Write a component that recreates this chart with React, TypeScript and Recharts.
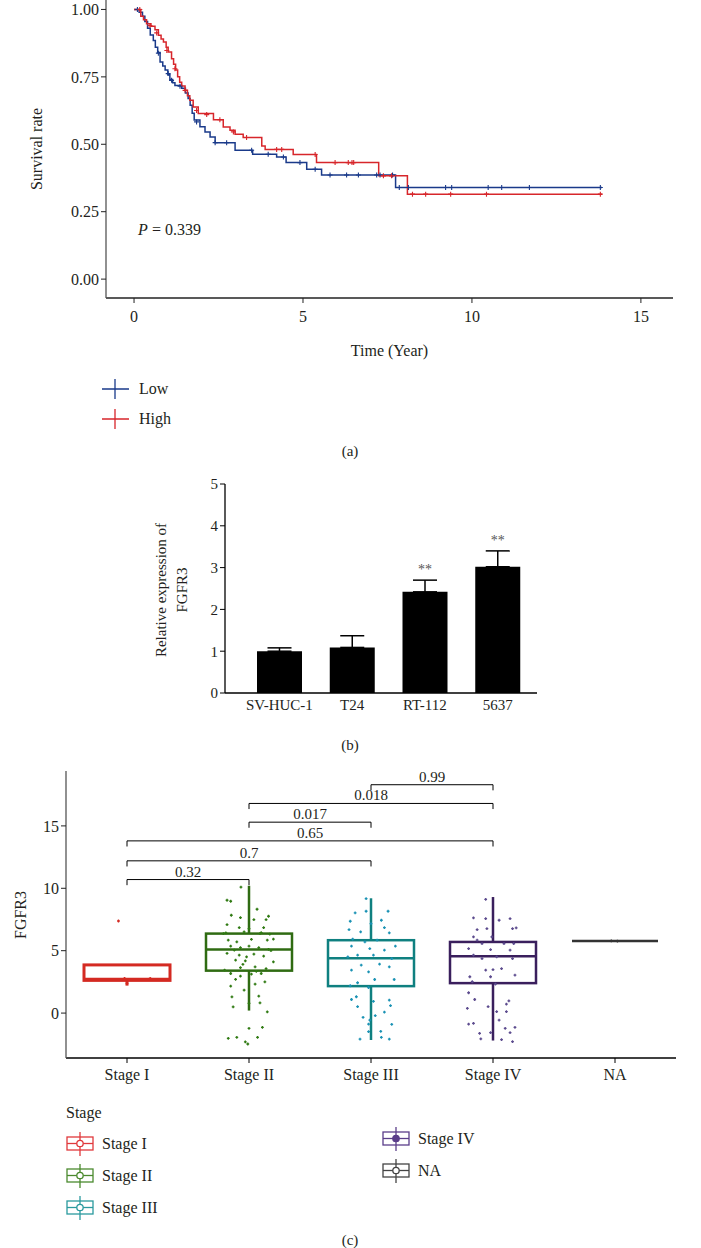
import React from "react";
import {
  ComposedChart,
  Line,
  Scatter,
  Bar,
  ErrorBar,
  XAxis,
  YAxis,
  Legend,
  Label,
  ReferenceLine,
  ReferenceDot,
} from "recharts";

const FONT = '"Liberation Serif", "DejaVu Serif", serif';
const INK = "#231f20";
const AXIS = "#222";

// ---- (a) survival curves ----
const lowTime = [0, 0.15, 0.25, 0.32, 0.4, 0.48, 0.57, 0.63, 0.7, 0.77, 0.85, 0.92, 1.0, 1.06, 1.14, 1.21, 1.41, 1.52, 1.6, 1.66, 1.72, 1.78, 1.95, 2.1, 2.25, 2.4, 2.99, 3.51, 4.22, 4.5, 5.11, 5.55, 7.74, 13.85];
const lowSurv = [1.0, 0.99, 0.975, 0.955, 0.93, 0.905, 0.885, 0.86, 0.84, 0.805, 0.79, 0.775, 0.758, 0.74, 0.728, 0.718, 0.708, 0.69, 0.67, 0.645, 0.615, 0.59, 0.565, 0.546, 0.527, 0.506, 0.478, 0.463, 0.453, 0.432, 0.407, 0.386, 0.34, 0.34];
const highTime = [0, 0.2, 0.28, 0.37, 0.5, 0.62, 0.72, 0.8, 0.87, 0.95, 1.01, 1.11, 1.17, 1.23, 1.29, 1.35, 1.41, 1.51, 1.58, 1.65, 1.75, 1.9, 2.35, 2.64, 2.84, 2.99, 3.23, 3.78, 3.88, 4.71, 5.4, 7.24, 8.09, 13.85];
const highSurv = [1.0, 0.975, 0.962, 0.947, 0.938, 0.925, 0.904, 0.89, 0.879, 0.86, 0.842, 0.817, 0.797, 0.775, 0.75, 0.73, 0.716, 0.7, 0.68, 0.663, 0.638, 0.614, 0.591, 0.564, 0.552, 0.537, 0.525, 0.494, 0.481, 0.462, 0.432, 0.383, 0.315, 0.315];
const lowCensorTime = [0.1, 0.72, 1.01, 1.11, 1.36, 1.85, 2.4, 2.74, 3.48, 3.97, 4.42, 4.91, 5.36, 5.8, 6.29, 6.64, 7.18, 7.28, 7.65, 7.85, 8.12, 9.22, 9.4, 10.48, 10.88, 11.7, 13.8];
const lowCensorSurv = [1.0, 0.838, 0.762, 0.737, 0.715, 0.583, 0.506, 0.506, 0.478, 0.463, 0.453, 0.432, 0.407, 0.386, 0.386, 0.386, 0.386, 0.386, 0.386, 0.34, 0.34, 0.34, 0.34, 0.34, 0.34, 0.34, 0.34];
const highCensorTime = [0.17, 0.47, 0.67, 0.97, 1.21, 1.51, 1.85, 2.15, 2.54, 2.94, 3.33, 4.22, 4.37, 5.36, 5.95, 6.34, 6.45, 6.5, 7.38, 7.62, 8.24, 8.63, 9.37, 10.43, 13.8];
const highCensorSurv = [1.0, 0.94, 0.913, 0.848, 0.78, 0.7, 0.625, 0.61, 0.591, 0.546, 0.525, 0.481, 0.481, 0.462, 0.432, 0.432, 0.432, 0.432, 0.383, 0.383, 0.315, 0.315, 0.315, 0.315, 0.315];
const survTicksX = [0, 5, 10, 15];
const survTicksY = [0, 0.25, 0.5, 0.75, 1];
const groupNames = ["Low", "High"];
const pValue = "0.339";

// ---- (b) qPCR bars ----
const cellLines = ["SV-HUC-1", "T24", "RT-112", "5637"];
const exprMean = [1.0, 1.09, 2.42, 3.02];
const exprSd = [0.08, 0.28, 0.28, 0.38];
const exprSig = ["", "", "**", "**"];
const exprTicks = [0, 1, 2, 3, 4, 5];

// ---- (c) stage boxplot ----
const stages = ["Stage I", "Stage II", "Stage III", "Stage IV", "NA"];
const boxMin = [2.2, 0.2, -2.16, -2.2, 5.74];
const boxQ1 = [2.62, 3.4, 2.16, 2.4, 5.77];
const boxMedian = [2.72, 5.1, 4.4, 4.56, 5.77];
const boxQ3 = [3.86, 6.37, 5.84, 5.7, 5.77];
const boxMax = [3.86, 10.2, 9.2, 9.3, 5.8];
const stageIPts = [[-0.07, 7.38], [-0.02, 2.78], [0, 2.37], [0.19, 2.78]];
const stageIIPts = [[-0.066, 10.1], [-0.18, 9.04], [-0.15, 8.96], [0.066, 8.32], [-0.145, 7.84], [-0.07, 7.65], [0.04, 7.49], [0.14, 7.49], [0.16, 7.76], [-0.18, 7.09], [-0.08, 6.85], [0, 6.77], [0.12, 6.85], [-0.21, 6.37], [-0.04, 6.5], [0.09, 6.37], [0.17, 6.32], [-0.17, 5.84], [-0.1, 5.7], [0.02, 5.9], [0.15, 5.84], [0.2, 5.92], [-0.15, 5.36], [-0.07, 5.25], [0, 5.36], [0.08, 5.25], [0.16, 5.1], [-0.18, 4.78], [-0.08, 4.64], [-0.02, 4.5], [0.04, 4.72], [0.12, 4.56], [-0.11, 4.24], [-0.03, 4.19], [-0.07, 3.65], [0.05, 3.7], [0.14, 3.57], [-0.15, 3.17], [-0.07, 2.96], [0.02, 3.12], [0.1, 3.17], [-0.11, 2.7], [0.05, 2.32], [-0.15, 2.16], [-0.04, 1.84], [0.08, 1.36], [0.09, 0.82], [-0.13, 0.5], [0, 0.77], [0, -1.23], [0.11, -1.15], [-0.17, -2.03], [-0.1, -1.95], [0.07, -1.95], [-0.03, -2.3], [-0.01, -2.48], [-0.19, 6.42], [0.1, 6.45], [-0.12, 5.05], [0.18, 5.0], [-0.2, 3.45], [0.06, 3.35], [0.2, 4.1], [-0.05, 3.9], [0.13, 2.5], [-0.14, 1.3], [0.15, 0.1]];
const stageIIIPts = [[-0.04, 9.17], [-0.13, 8.03], [-0.04, 8.16], [0.14, 8.16], [-0.17, 7.36], [0.085, 7.44], [-0.085, 6.51], [0, 7.17], [0.11, 6.85], [-0.18, 6.69], [0.15, 6.43], [-0.15, 5.92], [-0.05, 5.71], [0.05, 5.84], [0.2, 5.36], [-0.16, 5.36], [-0.01, 5.17], [0.11, 5.04], [-0.11, 4.64], [-0.19, 4.51], [0.02, 4.64], [0.17, 4.37], [-0.08, 3.84], [0.07, 3.92], [-0.16, 3.44], [-0.02, 3.31], [0.15, 3.71], [0.19, 2.69], [-0.11, 2.43], [0.03, 2.69], [-0.17, 2.19], [-0.02, 2.05], [-0.16, 1.09], [-0.12, 1.31], [0.02, 0.93], [0.15, 1.04], [-0.11, 0.51], [0.16, 0.59], [0.11, 0.08], [0.035, -0.21], [-0.065, -0.35], [-0.02, -0.88], [0.17, -0.9], [0.08, -1.47], [-0.02, -1.49], [-0.09, -2.08], [0.085, -1.95], [0.15, -2.08], [-0.01, -0.56]];
const stageIVPts = [[-0.06, 9.12], [-0.16, 7.63], [-0.06, 7.57], [0.05, 7.44], [0.14, 7.57], [-0.13, 6.69], [-0.05, 6.77], [0.16, 6.77], [0.19, 6.83], [-0.16, 6.11], [-0.01, 6.11], [-0.13, 5.84], [-0.09, 5.57], [0.09, 5.57], [0.17, 5.57], [-0.2, 5.17], [-0.02, 5.09], [0.14, 5.04], [-0.16, 4.64], [-0.09, 4.37], [0.03, 4.51], [0.16, 4.37], [-0.06, 3.44], [0, 3.49], [0.07, 3.57], [-0.19, 2.91], [-0.02, 2.91], [0.18, 3.04], [-0.17, 2.51], [0.02, 2.32], [-0.2, 1.63], [-0.15, 1.09], [0.13, 0.98], [0.11, 0.72], [-0.04, 0.51], [-0.21, 0.37], [0.03, 0.11], [0.11, 0.11], [0.05, -0.56], [-0.2, -0.88], [-0.16, -0.83], [0.18, -1.15], [0.1, -1.23], [0.14, -1.57], [-0.11, -1.63], [-0.02, -1.57], [-0.1, -2.07], [0.07, -2.12], [0.16, -2.28]];
const naPts = [[-0.03, 5.79], [0.02, 5.77]];
const compareFrom = [1, 1, 1, 2, 2, 3];
const compareTo = [2, 3, 4, 3, 4, 4];
const compareY = [10.7, 12.2, 13.8, 15.3, 16.8, 18.3];
const compareP = ["0.32", "0.7", "0.65", "0.017", "0.018", "0.99"];
const fgfrTicks = [0, 5, 10, 15];

// colours
const LOW_COLOR = "#1a3a8a";
const HIGH_COLOR = "#d7262b";
const STAGE_COLORS = ["#d42a22", "#2f6b12", "#0f8080", "#3a1f5d", "#333333"];
const POINT_COLORS = ["#d42a22", "#2f7a12", "#1a92b4", "#5c4b8e", "#333333"];
const LEGEND_COLORS = ["#e0393c", "#4b8a2e", "#2a9a9e", "#5b3e8a", "#444444"];

const lowData = lowTime.map((t, i) => ({ t, s: lowSurv[i] }));
const highData = highTime.map((t, i) => ({ t, s: highSurv[i] }));
const lowCensor = lowCensorTime.map((t, i) => ({ t, s: lowCensorSurv[i] }));
const highCensor = highCensorTime.map((t, i) => ({ t, s: highCensorSurv[i] }));

const exprData = cellLines.map((line, i) => ({
  line,
  mean: exprMean[i],
  err: [0, exprSd[i]],
  top: exprMean[i] + exprSd[i],
  sig: exprSig[i],
}));

const boxData = stages.map((stage, i) => ({
  stage,
  range: [boxMin[i], boxMax[i]],
  min: boxMin[i],
  q1: boxQ1[i],
  median: boxMedian[i],
  q3: boxQ3[i],
  max: boxMax[i],
}));

const stagePoints = [stageIPts, stageIIPts, stageIIIPts, stageIVPts, naPts].map((pts, i) =>
  pts.map(([dx, y]) => ({ x: i + 1 + dx, y }))
);

const tickStyle = (size) => ({ fill: INK, fontSize: size, fontFamily: FONT });

const plusShape = (color, half, width) => (props) => {
  const { cx, cy } = props;
  if (cx == null || cy == null) return <g />;
  return (
    <path
      d={`M${cx - half},${cy}H${cx + half}M${cx},${cy - half}V${cy + half}`}
      stroke={color}
      strokeWidth={width}
      fill="none"
    />
  );
};

function VerticalTitle({ lines, xs, cy, size }) {
  return (
    <g>
      {lines.map((t, i) => (
        <text
          key={i}
          x={xs[i]}
          y={cy}
          transform={`rotate(-90 ${xs[i]} ${cy})`}
          textAnchor="middle"
          dominantBaseline="central"
          fill={INK}
          fontSize={size}
          fontFamily={FONT}
        >
          {t}
        </text>
      ))}
    </g>
  );
}

function SurvLegend() {
  const colors = [LOW_COLOR, HIGH_COLOR];
  return (
    <div style={{ fontFamily: FONT, fontSize: 16, color: INK }}>
      {groupNames.map((g, i) => (
        <div key={g} style={{ display: "flex", alignItems: "center", height: 30 }}>
          <svg width={30} height={24}>
            <path d="M2,12H29M15,2V22" stroke={colors[i]} strokeWidth={1.3} />
          </svg>
          <span style={{ marginLeft: 9 }}>{g}</span>
        </div>
      ))}
    </div>
  );
}

function SurvivalPanel() {
  return (
    <ComposedChart width={701} height={440} margin={{ top: 0, right: 28, bottom: 0, left: 0 }}>
      <XAxis
        type="number"
        dataKey="t"
        domain={[-0.83, 15.95]}
        ticks={survTicksX}
        allowDataOverflow
        height={142}
        tickSize={5}
        tickMargin={8}
        axisLine={{ stroke: AXIS, strokeWidth: 1.3 }}
        tickLine={{ stroke: AXIS }}
        tick={tickStyle(16)}
      >
        <Label value="Time (Year)" position="insideTop" offset={47} fill={INK} fontSize={16} fontFamily={FONT} />
      </XAxis>
      <YAxis
        type="number"
        domain={[-0.07, 1.035]}
        ticks={survTicksY}
        allowDataOverflow
        tickFormatter={(v) => v.toFixed(2)}
        width={106}
        tickSize={5}
        axisLine={{ stroke: "#555", strokeWidth: 1.3 }}
        tickLine={{ stroke: AXIS }}
        tick={tickStyle(16)}
        label={() => <VerticalTitle lines={["Survival rate"]} xs={[36]} cy={149} size={16} />}
      />
      <Line data={lowData} dataKey="s" type="stepAfter" stroke={LOW_COLOR} strokeWidth={1.5} dot={false} isAnimationActive={false} />
      <Line data={highData} dataKey="s" type="stepAfter" stroke={HIGH_COLOR} strokeWidth={1.5} dot={false} isAnimationActive={false} />
      <Scatter data={lowCensor} dataKey="s" shape={plusShape(LOW_COLOR, 2.5, 1.1)} isAnimationActive={false} />
      <Scatter data={highCensor} dataKey="s" shape={plusShape(HIGH_COLOR, 2.5, 1.1)} isAnimationActive={false} />
      <ReferenceDot
        x={0.12}
        y={0.185}
        r={0}
        fill="none"
        stroke="none"
        label={(p) => {
          const vb = p.viewBox || {};
          return (
            <text x={vb.x} y={vb.y} dy="0.35em" fill={INK} fontSize={16} fontFamily={FONT}>
              <tspan fontStyle="italic">P</tspan> = {pValue}
            </text>
          );
        }}
      />
      <Legend
        layout="horizontal"
        verticalAlign="middle"
        align="center"
        wrapperStyle={{ left: 100, top: 374, width: 200 }}
        content={() => <SurvLegend />}
      />
    </ComposedChart>
  );
}

const starShape = (props) => {
  const { cx, cy, payload } = props;
  if (!payload || !payload.sig || cx == null || cy == null) return <g />;
  return (
    <text x={cx} y={cy - 6} textAnchor="middle" fill="#555" fontSize={14} fontFamily={FONT}>
      {payload.sig}
    </text>
  );
};

function ExpressionPanel() {
  return (
    <ComposedChart width={701} height={260} data={exprData} margin={{ top: 14, right: 164, bottom: 0, left: 0 }}>
      <XAxis
        dataKey="line"
        type="category"
        padding={{ left: 18, right: 3 }}
        height={37}
        tickLine={false}
        tickSize={0}
        tickMargin={6}
        axisLine={{ stroke: "#000", strokeWidth: 1.3 }}
        tick={tickStyle(15)}
      />
      <YAxis
        type="number"
        domain={[0, 5]}
        ticks={exprTicks}
        width={225}
        tickSize={5}
        axisLine={{ stroke: "#000", strokeWidth: 1.3 }}
        tickLine={{ stroke: "#000" }}
        tick={tickStyle(15)}
        label={() => (
          <VerticalTitle lines={["Relative expression of", "FGFR3"]} xs={[161, 182]} cy={120} size={15} />
        )}
      />
      <Bar dataKey="mean" fill="#000" barSize={45} isAnimationActive={false}>
        <ErrorBar dataKey="err" width={12} stroke="#000" strokeWidth={1.5} direction="y" />
      </Bar>
      <Scatter dataKey="top" shape={starShape} isAnimationActive={false} />
    </ComposedChart>
  );
}

const boxShape = (props) => {
  const { x, y, width, height, payload } = props;
  if (!payload) return <g />;
  const i = stages.indexOf(payload.stage);
  const color = STAGE_COLORS[i];
  const top = Math.min(y, y + height);
  const h = Math.abs(height);
  const span = payload.max - payload.min;
  const py = (v) => (span > 0 ? top + ((payload.max - v) / span) * h : top + h / 2);
  const cx = x + width / 2;
  const sw = i === 0 ? 3 : 2.5;
  return (
    <g stroke={color} strokeWidth={sw} fill="none">
      <line x1={cx} x2={cx} y1={py(payload.max)} y2={py(payload.q3)} />
      <line x1={cx} x2={cx} y1={py(payload.q1)} y2={py(payload.min)} />
      <rect x={x} y={py(payload.q3)} width={width} height={Math.max(0, py(payload.q1) - py(payload.q3))} />
      <line x1={x} x2={x + width} y1={py(payload.median)} y2={py(payload.median)} />
    </g>
  );
};

function StageIcon({ color, filled }) {
  return (
    <svg width={28} height={26}>
      <rect x={1} y={6} width={26} height={13} fill="none" stroke={color} strokeWidth={1.3} />
      <line x1={1} x2={27} y1={12.5} y2={12.5} stroke={color} strokeWidth={1.3} />
      <line x1={14} x2={14} y1={1} y2={25} stroke={color} strokeWidth={1.3} />
      <circle cx={14} cy={12.5} r={3.2} fill={filled ? color : "#fff"} stroke={color} strokeWidth={1.3} />
    </svg>
  );
}

function StageLegend() {
  // grid positions relative to chart top (740)
  const slots = [
    [66, 404],
    [66, 436],
    [66, 468],
    [382, 399],
    [382, 431],
  ];
  return (
    <div style={{ position: "relative", width: 701, height: 140, fontFamily: FONT, fontSize: 16, color: INK }}>
      <div style={{ position: "absolute", left: 66, top: 373 - 360 - 10, lineHeight: "20px" }}>Stage</div>
      {stages.map((s, i) => (
        <div
          key={s}
          style={{
            position: "absolute",
            left: slots[i][0],
            top: slots[i][1] - 360 - 13,
            display: "flex",
            alignItems: "center",
            height: 26,
          }}
        >
          <StageIcon color={LEGEND_COLORS[i]} filled={i === 3} />
          <span style={{ marginLeft: 8 }}>{s}</span>
        </div>
      ))}
    </div>
  );
}

function StagePanel() {
  const drop = 0.45;
  return (
    <ComposedChart width={701} height={500} data={boxData} margin={{ top: 31, right: 25, bottom: 0, left: 0 }}>
      <XAxis
        dataKey="stage"
        type="category"
        height={182}
        tickSize={5}
        tickMargin={6}
        axisLine={{ stroke: "#000", strokeWidth: 1.3 }}
        tickLine={{ stroke: "#000" }}
        tick={tickStyle(16)}
      />
      <XAxis xAxisId="num" type="number" dataKey="x" domain={[0.5, 5.5]} allowDataOverflow hide />
      <YAxis
        type="number"
        domain={[-3.6, 19.4]}
        ticks={fgfrTicks}
        allowDataOverflow
        width={66}
        tickSize={5}
        axisLine={{ stroke: "#555", strokeWidth: 1.3 }}
        tickLine={{ stroke: AXIS }}
        tick={tickStyle(16)}
        label={() => <VerticalTitle lines={["FGFR3"]} xs={[20]} cy={175} size={16} />}
      />
      <Bar dataKey="range" barSize={86} shape={boxShape} isAnimationActive={false} />
      {stages.map((s, i) => (
        <Scatter
          key={s}
          xAxisId="num"
          data={stagePoints[i]}
          dataKey="y"
          shape={plusShape(POINT_COLORS[i], 1.4, 1.3)}
          isAnimationActive={false}
        />
      ))}
      {compareP.map((p, k) => (
        <ReferenceLine
          key={`h${k}`}
          xAxisId="num"
          segment={[
            { x: compareFrom[k], y: compareY[k] },
            { x: compareTo[k], y: compareY[k] },
          ]}
          stroke="#000"
          strokeWidth={1}
          label={{ value: p, position: "top", offset: 3, fill: INK, fontSize: 15, fontFamily: FONT }}
        />
      ))}
      {compareP.map((p, k) => (
        <ReferenceLine
          key={`l${k}`}
          xAxisId="num"
          segment={[
            { x: compareFrom[k], y: compareY[k] },
            { x: compareFrom[k], y: compareY[k] - drop },
          ]}
          stroke="#000"
          strokeWidth={1}
        />
      ))}
      {compareP.map((p, k) => (
        <ReferenceLine
          key={`r${k}`}
          xAxisId="num"
          segment={[
            { x: compareTo[k], y: compareY[k] },
            { x: compareTo[k], y: compareY[k] - drop },
          ]}
          stroke="#000"
          strokeWidth={1}
        />
      ))}
      <Legend
        layout="horizontal"
        verticalAlign="middle"
        align="center"
        wrapperStyle={{ left: 0, top: 360, width: 701 }}
        content={() => <StageLegend />}
      />
    </ComposedChart>
  );
}

const caption = (text, top) => (
  <div
    style={{
      position: "absolute",
      left: 350,
      top,
      transform: "translate(-50%, -50%)",
      fontFamily: FONT,
      fontSize: 15,
      color: INK,
    }}
  >
    {text}
  </div>
);

export default function App() {
  return (
    <div
      style={{
        position: "absolute",
        left: 0,
        top: 0,
        width: 701,
        height: 1248,
        background: "#fff",
        fontFamily: FONT,
        overflow: "hidden",
      }}
    >
      <div style={{ position: "absolute", left: 0, top: 0 }}>
        <SurvivalPanel />
      </div>
      {caption("(a)", 451)}
      <div style={{ position: "absolute", left: 0, top: 470 }}>
        <ExpressionPanel />
      </div>
      {caption("(b)", 745)}
      <div style={{ position: "absolute", left: 0, top: 740 }}>
        <StagePanel />
      </div>
      {caption("(c)", 1240)}
    </div>
  );
}
